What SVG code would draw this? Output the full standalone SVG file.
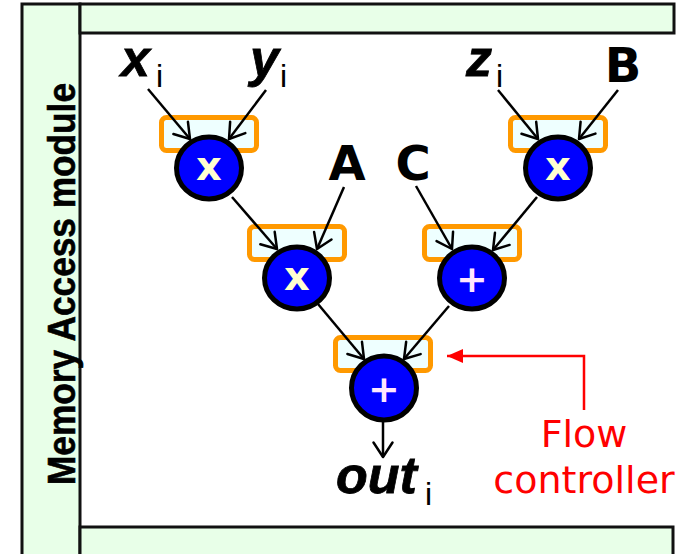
<svg xmlns="http://www.w3.org/2000/svg" width="692" height="554" viewBox="0 0 692 554">
<style>
.bar{fill:#E8FFE8;stroke:#111;stroke-width:3}
.fc{fill:#EEFFFF;stroke:#FF9900;stroke-width:5}
.op{fill:#0000FF;stroke:#000;stroke-width:5}
.opx{font-family:"DejaVu Sans",Verdana,sans-serif;font-weight:bold;font-size:40px;fill:#FFFFD0;text-anchor:middle}
.opp{font-family:"DejaVu Sans",Verdana,sans-serif;font-weight:bold;font-size:38px;fill:#FFE6FF;text-anchor:middle}
.var{font-family:"Liberation Sans",Arial,sans-serif;font-weight:bold;font-style:italic;font-size:52px;fill:#000;stroke:#000;stroke-width:0.8}
.sub{font-family:"Liberation Sans",Arial,sans-serif;font-weight:normal;font-style:normal;font-size:32px;fill:#000;stroke:none}
.cst{font-family:"DejaVu Sans",Verdana,sans-serif;font-weight:bold;font-size:48px;fill:#000;text-anchor:middle}
.conn line{stroke:#000;stroke-width:2.5;marker-end:url(#ah)}
.red{font-family:"DejaVu Sans",Verdana,sans-serif;font-size:38px;fill:#FF0000;text-anchor:middle}
</style>
<defs>
<marker id="ah" markerUnits="userSpaceOnUse" viewBox="-20 -14 24 28" refX="0" refY="0" markerWidth="24" markerHeight="28" orient="auto">
<path d="M-14.5,-9.5 L0,0 L-14.5,9.5" fill="none" stroke="#000" stroke-width="2.5" stroke-linecap="round" stroke-linejoin="round"/>
</marker>
<marker id="rah" markerUnits="userSpaceOnUse" viewBox="-18 -9 20 18" refX="0" refY="0" markerWidth="20" markerHeight="18" orient="auto">
<path d="M0,0 L-16,-7 L-16,7 Z" fill="#FF0000"/>
</marker>
</defs>
<rect width="692" height="554" fill="#fff"/>
<g id="memory-access-module">
<rect class="bar" x="22" y="4" width="58" height="560"/>
<rect class="bar" x="80" y="4" width="594" height="29"/>
<rect class="bar" x="80" y="527" width="593" height="40"/>
<text transform="translate(75,284) rotate(-90)" font-family="'Liberation Sans',Arial,sans-serif" font-weight="bold" font-size="39" text-anchor="middle" textLength="402" lengthAdjust="spacingAndGlyphs" stroke="#000" stroke-width="0.6">Memory Access module</text>
</g>
<g id="flow-controllers">
<rect class="fc" x="161.5" y="117.5" width="95" height="33" rx="5"/>
<rect class="fc" x="249.5" y="226.5" width="95" height="33" rx="5"/>
<rect class="fc" x="510.5" y="117.5" width="95" height="33" rx="5"/>
<rect class="fc" x="424.5" y="226.5" width="95" height="33" rx="5"/>
<rect class="fc" x="335.5" y="337.5" width="95" height="33" rx="5"/>
</g>
<g id="labels">
<text id="lbl-x"><tspan class="var" x="121" y="76">x</tspan><tspan class="sub" x="156" y="87">i</tspan></text>
<text id="lbl-y"><tspan class="var" x="250" y="76">y</tspan><tspan class="sub" x="280" y="87">i</tspan></text>
<text id="lbl-z"><tspan class="var" x="466" y="76">z</tspan><tspan class="sub" x="496" y="87">i</tspan></text>
<text id="lbl-B" class="cst" x="623" y="82">B</text>
<text id="lbl-A" class="cst" x="347" y="180">A</text>
<text id="lbl-C" class="cst" x="413" y="180">C</text>
<text id="lbl-out"><tspan class="var" x="336" y="493">out</tspan><tspan class="sub" x="425" y="505">i</tspan></text>
</g>
<g id="connectors" class="conn">
<line x1="148" y1="89" x2="190" y2="139"/>
<line x1="266" y1="90" x2="229" y2="139"/>
<line x1="498" y1="90" x2="538" y2="139"/>
<line x1="618" y1="90" x2="579" y2="139"/>
<line x1="232" y1="197" x2="277" y2="249"/>
<line x1="344" y1="187" x2="317" y2="249"/>
<line x1="416" y1="186" x2="452" y2="249"/>
<line x1="537" y1="197" x2="493" y2="250"/>
<line x1="318" y1="304" x2="364" y2="359"/>
<line x1="449" y1="306" x2="404" y2="359"/>
<line x1="383" y1="422" x2="383" y2="457"/>
</g>
<g id="n1"><ellipse class="op" cx="209" cy="168" rx="32.5" ry="31"/><text class="opx" x="209" y="180">x</text></g>
<g id="n2"><ellipse class="op" cx="297" cy="278" rx="32.5" ry="31"/><text class="opx" x="297" y="290">x</text></g>
<g id="n3"><ellipse class="op" cx="558" cy="168" rx="32.5" ry="31"/><text class="opx" x="558" y="180">x</text></g>
<g id="n4"><ellipse class="op" cx="472" cy="278" rx="32.5" ry="31"/><text class="opp" x="472" y="292">+</text></g>
<g id="n5"><ellipse class="op" cx="384" cy="388" rx="32.5" ry="32"/><text class="opp" x="384" y="402">+</text></g>
<g id="flow-controller-note">
<path d="M584,410 V356 H447" fill="none" stroke="#FF0000" stroke-width="2.5" marker-end="url(#rah)"/>
<text class="red" x="584" y="447">Flow</text>
<text class="red" x="584" y="493">controller</text>
</g>
</svg>
